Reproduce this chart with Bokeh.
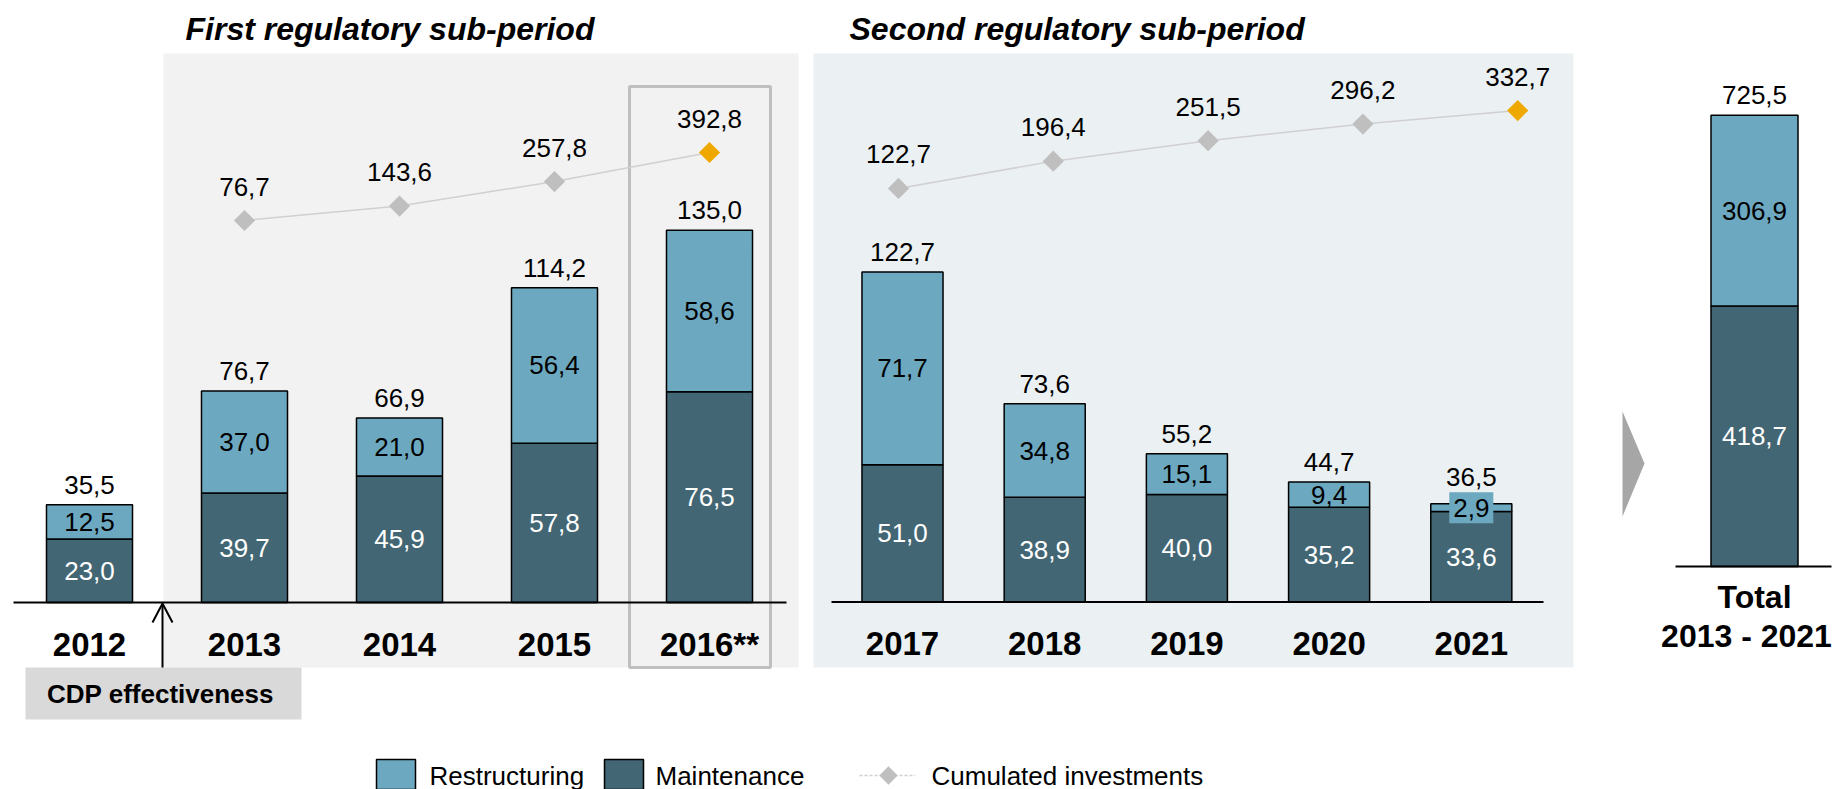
from bokeh.plotting import figure
from bokeh.models import Range1d
from bokeh.embed import file_html
from bokeh.resources import INLINE
from bokeh.core.properties import value
import math

# ---------------- data ----------------
years1 = ["2012", "2013", "2014", "2015", "2016**"]
maint1 = [23.0, 39.7, 45.9, 57.8, 76.5]
restr1 = [12.5, 37.0, 21.0, 56.4, 58.6]
total1 = [35.5, 76.7, 66.9, 114.2, 135.0]
cum1 = [76.7, 143.6, 257.8, 392.8]          # 2013 .. 2016

years2 = ["2017", "2018", "2019", "2020", "2021"]
maint2 = [51.0, 38.9, 40.0, 35.2, 33.6]
restr2 = [71.7, 34.8, 15.1, 9.4, 2.9]
total2 = [122.7, 73.6, 55.2, 44.7, 36.5]
cum2 = [122.7, 196.4, 251.5, 296.2, 332.7]  # 2017 .. 2021

tot_labels = ["Total", "2013 - 2021"]
maint_tot = [418.7]
restr_tot = [306.9]
total_tot = [725.5]

titles = ["First regulatory sub-period", "Second regulatory sub-period"]
legend_labels = ["Restructuring", "Maintenance", "Cumulated investments"]

# ---------------- styles ----------------
LIGHT = "#6CA9C0"
DARK = "#436674"
BG1 = "#F2F2F2"
BG2 = "#EBF0F3"
GRAYD = "#BFBFBF"
ORANGE = "#EEA800"
LINEC = "#D0D0D0"
FONT = value("Liberation Sans")

def fmt(v):
    return f"{v:.1f}".replace(".", ",")

W, H = 1836, 789
L, T = 0, 0  # page offset of the figure

p = figure(width=W, height=H, output_backend="svg", toolbar_location=None,
           x_range=Range1d(L, L + W), y_range=Range1d(T + H, T),
           x_axis_type=None, y_axis_type=None, min_border=0)
p.grid.visible = False
p.outline_line_color = None
p.background_fill_color = "white"
p.border_fill_color = "white"

def xr(px0, step):
    return Range1d((L - px0) / step, (L + W - px0) / step)

def yr(py0, step):
    return Range1d((py0 - (T + H)) / step, (py0 - T) / step)

p.extra_x_ranges = {"p1": xr(89, 155.0), "p2": xr(902, 142.2),
                    "l2": xr(898, 154.8), "tot": xr(1754, 100.0)}
p.extra_y_ranges = {"p1": yr(602, 2.756), "p2": yr(601.5, 2.69),
                    "l1": yr(236.5, 0.2151), "l2": yr(233.5, 0.371),
                    "tot": yr(566, 0.622)}

# ---------------- backgrounds ----------------
p.quad(left=[163, 813], right=[798, 1573], top=[53, 53], bottom=[667, 667],
       fill_color=[BG1, BG2], line_color=None)
p.quad(left=[629], right=[770], top=[86], bottom=[667], fill_color=None,
       line_color=GRAYD, line_width=3)
# CDP box
p.quad(left=[25], right=[301], top=[667], bottom=[719], fill_color="#D9D9D9", line_color=None)
p.text(x=[160], y=[693], text=["CDP effectiveness"], text_font=FONT, text_font_style="bold",
       text_font_size="26px", text_align="center", text_baseline="middle", text_color="black")
# arrow
p.multi_line(xs=[[162, 162], [152, 162, 172]], ys=[[667, 604], [622, 603, 622]],
             line_color="black", line_width=2)
# chevron
p.patch(x=[1622, 1644, 1622], y=[411, 463, 516], fill_color="#A6A6A6", line_color=None)

# titles
p.text(x=[185, 849], y=[28, 28], text=titles, text_font=FONT, text_font_style="bold italic",
       text_font_size="32px", text_align="left", text_baseline="middle", text_color="black")


def stacked(xs, maint, restr, total, width, xname, yname, top_offsets):
    tops = [m + r for m, r in zip(maint, restr)]
    p.vbar(x=xs, width=width, bottom=0, top=maint, fill_color=DARK, line_color="black",
           line_width=1.5, x_range_name=xname, y_range_name=yname)
    p.vbar(x=xs, width=width, bottom=maint, top=tops, fill_color=LIGHT, line_color="black",
           line_width=1.5, x_range_name=xname, y_range_name=yname)
    # small segments get a label box
    small = [i for i, r in enumerate(restr) if r < 5]
    if small:
        p.rect(x=[xs[i] for i in small], y=[maint[i] + restr[i] / 2 for i in small],
               width=44, height=31, width_units="screen", height_units="screen",
               fill_color=LIGHT, line_color=None, x_range_name=xname, y_range_name=yname)
    p.text(x=xs, y=[m / 2 for m in maint], text=[fmt(m) for m in maint], text_font=FONT,
           text_font_size="26px", text_align="center", text_baseline="middle",
           text_color="white", x_range_name=xname, y_range_name=yname)
    p.text(x=xs, y=[m + r / 2 for m, r in zip(maint, restr)], text=[fmt(r) for r in restr],
           text_font=FONT, text_font_size="26px", text_align="center", text_baseline="middle",
           text_color="black", x_range_name=xname, y_range_name=yname)
    p.text(x=xs, y=total, text=[fmt(t) for t in total], y_offset=top_offsets, text_font=FONT,
           text_font_size="26px", text_align="center", text_baseline="middle",
           text_color="black", x_range_name=xname, y_range_name=yname)


x1 = list(range(len(years1)))
x2 = list(range(len(years2)))

stacked(x1, maint1, restr1, total1, 0.555, "p1", "p1", [-20] * len(x1))
stacked(x2, maint2, restr2, total2, 0.57, "p2", "p2",
        [-27 if r < 5 else -20 for r in restr2])
stacked([0], maint_tot, restr_tot, total_tot, 0.87, "tot", "tot", [-20])

# baselines
p.segment(x0=[13, 831, 1675], x1=[786, 1543, 1831], y0=[602, 601.5, 566], y1=[602, 601.5, 566],
          line_color="black", line_width=2)

# year labels
p.text(x=x1, y=[644] * len(x1), text=years1, text_font=FONT, text_font_style="bold",
       text_font_size="33px", text_align="center", text_baseline="middle",
       text_color="black", x_range_name="p1")
p.text(x=x2, y=[643] * len(x2), text=years2, text_font=FONT, text_font_style="bold",
       text_font_size="33px", text_align="center", text_baseline="middle",
       text_color="black", x_range_name="p2")
p.text(x=[0, 0], y=[596, 635], text=tot_labels, x_offset=[0, -8], text_font=FONT,
       text_font_style="bold", text_font_size="32px", text_align="center",
       text_baseline="middle", text_color="black", x_range_name="tot")

# cumulated lines
xc1 = x1[1:]
p.line(x=xc1, y=cum1, line_color=LINEC, line_width=1.5, x_range_name="p1", y_range_name="l1")
p.scatter(x=xc1, y=cum1, marker="square", size=15, angle=math.pi / 4,
          fill_color=[GRAYD] * (len(cum1) - 1) + [ORANGE], line_color=None,
          x_range_name="p1", y_range_name="l1")
p.text(x=xc1, y=cum1, text=[fmt(c) for c in cum1], y_offset=-34, text_font=FONT,
       text_font_size="26px", text_align="center", text_baseline="middle", text_color="black",
       x_range_name="p1", y_range_name="l1")

p.line(x=x2, y=cum2, line_color=LINEC, line_width=1.5, x_range_name="l2", y_range_name="l2")
p.scatter(x=x2, y=cum2, marker="square", size=15, angle=math.pi / 4,
          fill_color=[GRAYD] * (len(cum2) - 1) + [ORANGE], line_color=None,
          x_range_name="l2", y_range_name="l2")
p.text(x=x2, y=cum2, text=[fmt(c) for c in cum2], y_offset=-34, text_font=FONT,
       text_font_size="26px", text_align="center", text_baseline="middle", text_color="black",
       x_range_name="l2", y_range_name="l2")

# legend
p.quad(left=[376, 604], right=[415, 643], top=[759, 759], bottom=[789, 789],
       fill_color=[LIGHT, DARK], line_color="black", line_width=1.5)
p.segment(x0=[859], x1=[915], y0=[775], y1=[775], line_color=LINEC, line_width=1.5,
          line_dash="3 2")
p.scatter(x=[888], y=[775], marker="square", size=13, angle=math.pi / 4,
          fill_color=GRAYD, line_color=None)
p.text(x=[429, 655, 931], y=[775, 775, 775], text=legend_labels, text_font=FONT,
       text_font_size="26px", text_align="left", text_baseline="middle", text_color="black")

open("out.html", "w").write(file_html(p, INLINE))
